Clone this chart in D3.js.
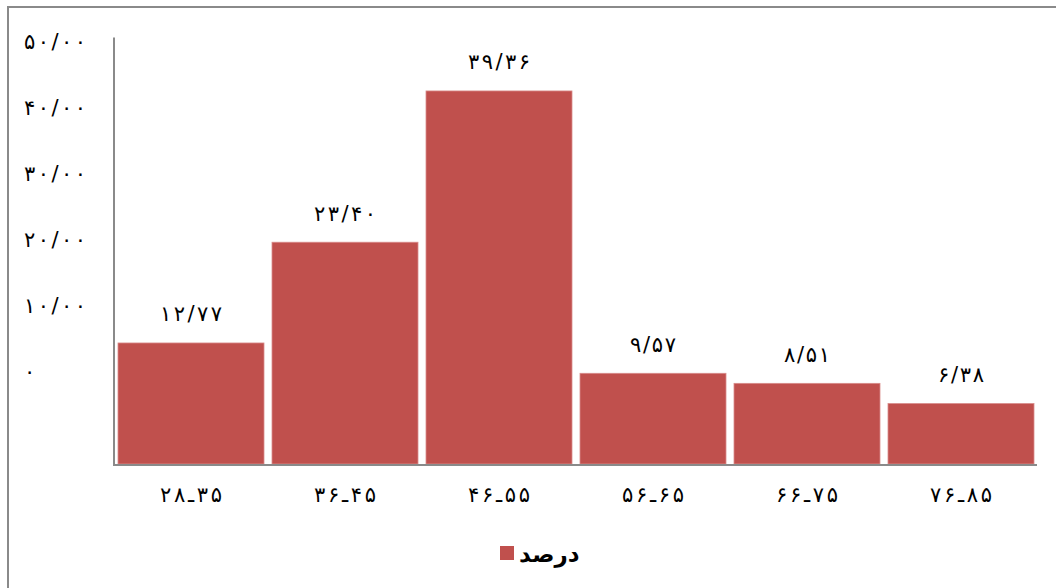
<!DOCTYPE html>
<html><head><meta charset="utf-8">
<script src="https://cdn.jsdelivr.net/npm/d3@7"></script>
<style>body{margin:0;background:#fff}svg{display:block}text{font-family:"DejaVu Sans",sans-serif}</style>
</head><body><svg id="c" width="1056" height="588"></svg>
<script>
const categories = ["۲۸ـ۳۵","۳۶ـ۴۵","۴۶ـ۵۵","۵۶ـ۶۵","۶۶ـ۷۵","۷۶ـ۸۵"];
const values = [12.77, 23.40, 39.36, 9.57, 8.51, 6.38];
const valueLabels = ["۱۲/۷۷","۲۳/۴۰","۳۹/۳۶","۹/۵۷","۸/۵۱","۶/۳۸"];
const tickValues = [0,10,20,30,40,50];
const tickLabels = ["۰","۱۰/۰۰","۲۰/۰۰","۳۰/۰۰","۴۰/۰۰","۵۰/۰۰"];
const seriesName = "درصد";
const color = "#C0504D";

const svg = d3.select("#c");
svg.append("rect").attr("x",8).attr("y",7).attr("width",1100).attr("height",700)
  .attr("fill","none").attr("stroke","#8a8a8a").attr("stroke-width",2);

const x = d3.scaleBand().domain(categories).range([114,1038]).paddingInner(0.052).paddingOuter(0.026);
const y = d3.scaleLinear().domain([0,45]).range([464,37.5]);
const yTick = d3.scaleLinear().domain([0,50]).range([372,42]);

svg.selectAll("rect.bar").data(values).enter().append("rect").attr("class","bar")
  .attr("x",(d,i)=>x(categories[i])).attr("width",x.bandwidth())
  .attr("y",d=>y(d)).attr("height",d=>y(0)-y(d))
  .attr("fill",color).attr("stroke","#d98c8a").attr("stroke-width",0.8);

svg.append("line").attr("x1",114).attr("x2",114).attr("y1",y.range()[1]).attr("y2",465)
  .attr("stroke","#8a8a8a").attr("stroke-width",2);
svg.append("line").attr("x1",113).attr("x2",1037).attr("y1",465).attr("y2",465)
  .attr("stroke","#8a8a8a").attr("stroke-width",2);

const spread = (sel, fn) => sel.each(function(d,i){
  const s = fn(d,i);
  const t = d3.select(this).text(s);
  if (s.length > 1) t.attr("textLength", 16*s.length - 18).attr("lengthAdjust","spacing");
});
const common = sel => sel.attr("direction","ltr").attr("unicode-bidi","bidi-override")
  .attr("font-size",21).attr("fill","#000").attr("dy","0.35em");

spread(common(svg.selectAll("text.tick").data(tickValues).enter().append("text").attr("class","tick")
  .attr("x",24).attr("y",d=>yTick(d))), (d,i)=>tickLabels[i]);

spread(common(svg.selectAll("text.val").data(values).enter().append("text").attr("class","val")
  .attr("x",(d,i)=>x(categories[i])+x.bandwidth()/2).attr("y",d=>y(d)-29)
  .attr("text-anchor","middle")), (d,i)=>valueLabels[i]);

spread(common(svg.selectAll("text.cat").data(categories).enter().append("text").attr("class","cat")
  .attr("x",d=>x(d)+x.bandwidth()/2).attr("y",495)
  .attr("text-anchor","middle")), d=>d);

svg.append("rect").attr("x",500).attr("y",546).attr("width",14).attr("height",14).attr("fill",color);
svg.append("text").attr("x",519).attr("y",554).attr("dy","0.35em")
  .attr("font-size",23).attr("font-weight","bold").attr("fill","#000")
  .text(seriesName);
</script></body></html>
